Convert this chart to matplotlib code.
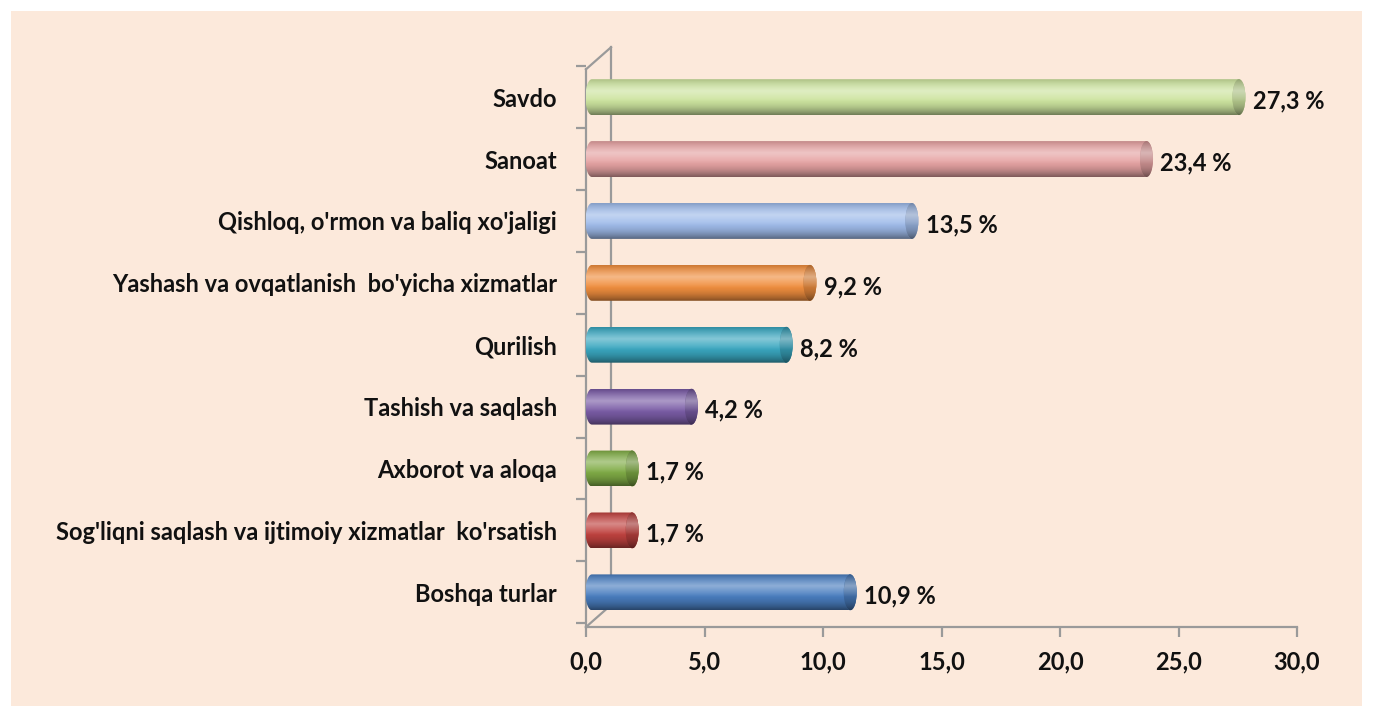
import numpy as np
import matplotlib
matplotlib.use("Agg")
import matplotlib.pyplot as plt
from matplotlib.patches import Rectangle, Ellipse
from matplotlib.colors import to_rgb
from matplotlib.lines import Line2D
from matplotlib.path import Path

# ---- data (bottom to top) ----
categories = [
    "Boshqa turlar",
    "Sog'liqni saqlash va ijtimoiy xizmatlar  ko'rsatish",
    "Axborot va aloqa",
    "Tashish va saqlash",
    "Qurilish",
    "Yashash va ovqatlanish  bo'yicha xizmatlar",
    "Qishloq, o'rmon va baliq xo'jaligi",
    "Sanoat",
    "Savdo",
]
values = [10.9, 1.7, 1.7, 4.2, 8.2, 9.2, 13.5, 23.4, 27.3]
value_labels = ["10,9 %", "1,7 %", "1,7 %", "4,2 %", "8,2 %", "9,2 %", "13,5 %", "23,4 %", "27,3 %"]
colors = ["#4a7ec0", "#c0423f", "#80ac46", "#7a5ca6", "#3aa7c0", "#f18f3f", "#9fbbea", "#e6a3a3", "#cde49f"]
xticks = [0, 5, 10, 15, 20, 25, 30]
xtick_labels = ["0,0", "5,0", "10,0", "15,0", "20,0", "25,0", "30,0"]

FONT = "Lato"
FS = 17
BG = "#fce9db"
GREY = "#9a9a9a"

W, H = 1373, 706
fig = plt.figure(figsize=(W / 100, H / 100), dpi=100)
fig.patch.set_facecolor("white")
fig.add_artist(Rectangle((11 / W, 0), (1362 - 11) / W, (H - 11) / H,
                         transform=fig.transFigure, facecolor=BG, edgecolor="none", zorder=-5))

ax_l, ax_r = 586 / W, 1297 / W
ax_b, ax_t = 1 - 627 / H, 1 - 60 / H
ax = fig.add_axes([ax_l, ax_b, ax_r - ax_l, ax_t - ax_b], zorder=1)
ax.set_facecolor("none")
ax.set_xlim(0, 30)
YMIN, YMAX = -0.56, 8.6
ax.set_ylim(YMIN, YMAX)

ypos = np.arange(len(categories))
bar_h = 0.58
x_off = 0.25      # 3D depth offset of bars (data units)
cap_w = 0.55      # width of end ellipse (data units)


def shade(base, n=64):
    b = np.array(to_rgb(base))
    t = np.linspace(-1, 1, n)[:, None]  # top (-1) to bottom (1)
    hl = np.clip(0.38 * (1 - np.abs(t + 0.35) * 1.6), 0, None)
    dk = 0.45 * np.clip(t, 0, None) ** 2 + 0.15 * np.clip(-t, 0, None) ** 3
    c = b[None, :] * (1 - hl) + hl
    c = c * (1 - dk)
    return np.repeat(c[:, None, :], 2, axis=1)


for y, v, col, lab in zip(ypos, values, colors, value_labels):
    x0, x1 = x_off, x_off + v
    y0, y1 = y - bar_h / 2, y + bar_h / 2
    im = ax.imshow(shade(col), extent=(x0 - cap_w / 2, x1, y0, y1), aspect="auto",
                   origin="upper", zorder=3, interpolation="bilinear")
    th = np.linspace(np.pi / 2, 3 * np.pi / 2, 40)
    left = np.column_stack([x0 + (cap_w / 2) * np.cos(th), y + (bar_h / 2) * np.sin(th)])
    verts = np.vstack([[x1, y1], left, [x1, y0], [x1, y1]])
    im.set_clip_path(Path(verts), ax.transData)
    # end cap
    cb = tuple(np.array(to_rgb(col)) * 0.85)
    cap = Ellipse((x1, y), cap_w, bar_h, facecolor=cb, edgecolor="none", zorder=4)
    ax.add_patch(cap)
    im2 = ax.imshow(shade(cb), extent=(x1 - cap_w / 2, x1 + cap_w / 2, y0, y1), aspect="auto",
                    origin="upper", zorder=4.5, interpolation="bilinear")
    im2.set_clip_path(cap)
    ax.text(x1 + cap_w / 2 + 0.3, y - 0.06, lab, ha="left", va="center",
            fontsize=FS, fontweight="bold", family=FONT, color="#111111", zorder=6)

# axes styling
for s in ["top", "right"]:
    ax.spines[s].set_visible(False)
for s in ["left", "bottom"]:
    ax.spines[s].set_color(GREY)
    ax.spines[s].set_linewidth(1.6)
ax.spines["left"].set_bounds(YMIN, 8.45)

ax.set_xticks(xticks)
ax.set_xticklabels(xtick_labels, fontsize=FS, fontweight="bold", family=FONT, color="#111111")
ax.tick_params(axis="x", length=7, width=1.6, color=GREY, pad=10)

ax.set_yticks(ypos)
ax.set_yticklabels(categories, fontsize=FS, fontweight="bold", family=FONT, color="#111111")
ax.tick_params(axis="y", length=0, pad=21)
ax.set_yticks(np.arange(-0.5, 8.6, 1), minor=True)
ax.tick_params(axis="y", which="minor", length=7, width=1.6, color=GREY)

# 3D back-wall lines (pixel offsets from the front axis)
dx_px, dy_px = 25, 22
fig.canvas.draw()
inv = fig.transFigure.inverted()
xa, ya_b = ax.transData.transform((0, YMIN))
_, ya_t = ax.transData.transform((0, 8.45))
segs = [
    [(xa, ya_b), (xa + dx_px, ya_b + dy_px)],
    [(xa, ya_t), (xa + dx_px, ya_t + dy_px)],
    [(xa + dx_px, ya_b + dy_px), (xa + dx_px, ya_t + dy_px)],
]
for seg in segs:
    p = inv.transform(np.array(seg))
    fig.add_artist(Line2D(p[:, 0], p[:, 1], transform=fig.transFigure, color=GREY, lw=1.6, zorder=0.5))

fig.savefig("out.png", dpi=100, facecolor=fig.get_facecolor())
